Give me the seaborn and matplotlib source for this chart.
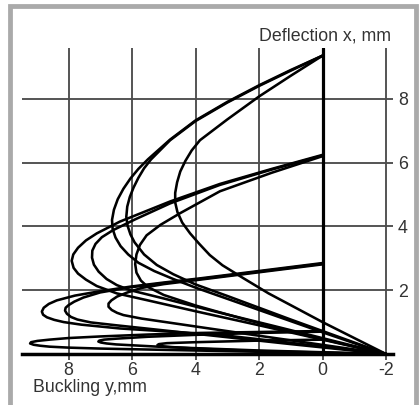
import matplotlib
matplotlib.use('Agg')
import matplotlib.pyplot as plt
import seaborn as sns
import pandas as pd
from matplotlib.patches import Rectangle

# ---------------- data ----------------
x_ticks = [8, 6, 4, 2, 0, -2]
x_tick_labels = ['8', '6', '4', '2', '0', '-2']
y_ticks = [2, 4, 6, 8]
y_tick_labels = ['2', '4', '6', '8']

a1_x = [0.0, 1.0, 2.0, 3.0, 4.0, 4.8, 5.5, 5.8, 6.05, 6.27, 6.45, 6.57, 6.63, 6.61, 6.52, 6.36, 6.12, 5.8, 5.3, 4.7, 4.0, 3.0, 2.0, 1.0, 0.0, -1.0, -2.0]
a1_y = [9.35, 8.9, 8.42, 7.9, 7.32, 6.72, 6.1, 5.8, 5.5, 5.18, 4.85, 4.52, 4.2, 3.92, 3.65, 3.38, 3.12, 2.86, 2.6, 2.35, 2.08, 1.73, 1.38, 1.03, 0.68, 0.34, 0.0]

a2_x = [0.0, 1.0, 2.0, 3.0, 4.0, 4.8, 5.4, 5.62, 5.8, 5.95, 6.07, 6.15, 6.18, 6.14, 6.05, 5.92, 5.62, 5.22, 4.7, 4.0, 3.0, 2.0, 1.0, 0.0, -1.0, -2.0]
a2_y = [9.35, 8.88, 8.4, 7.88, 7.3, 6.7, 6.1, 5.82, 5.52, 5.22, 4.92, 4.62, 4.3, 4.02, 3.75, 3.5, 3.12, 2.79, 2.5, 2.18, 1.82, 1.45, 1.08, 0.72, 0.36, 0.0]

a3_x = [0.0, 1.0, 2.0, 3.0, 3.86, 4.12, 4.32, 4.48, 4.58, 4.64, 4.64, 4.57, 4.42, 4.17, 3.88, 3.55, 3.15, 2.5, 1.7, 1.0, 0.0, -1.0, -2.0]
a3_y = [9.35, 8.72, 8.07, 7.35, 6.7, 6.38, 6.05, 5.72, 5.38, 5.05, 4.75, 4.45, 4.12, 3.78, 3.45, 3.1, 2.78, 2.38, 1.9, 1.53, 1.0, 0.5, 0.0]

b1_x = [0.0, 1.6, 3.23, 4.8, 6.38, 7.11, 7.45, 7.7, 7.85, 7.9, 7.84, 7.7, 7.45, 7.11, 6.48, 5.5, 4.0, 2.0, 0.0, -2.0]
b1_y = [6.24, 5.8, 5.33, 4.78, 4.15, 3.78, 3.56, 3.33, 3.12, 2.92, 2.7, 2.52, 2.33, 2.13, 1.9, 1.68, 1.34, 0.9, 0.45, 0.0]

b2_x = [0.0, 1.6, 3.23, 4.8, 5.9, 6.6, 6.95, 7.15, 7.25, 7.26, 7.2, 7.05, 6.8, 6.48, 6.06, 5.0, 3.5, 1.5, -2.0]
b2_y = [6.22, 5.78, 5.3, 4.72, 4.22, 3.88, 3.66, 3.45, 3.24, 3.02, 2.8, 2.58, 2.35, 2.16, 2.0, 1.74, 1.36, 0.87, 0.0]

b3_x = [0.0, 1.6, 3.23, 4.49, 5.1, 5.54, 5.75, 5.86, 5.9, 5.86, 5.72, 5.5, 5.0, 4.0, 2.5, 0.5, -2.0]
b3_y = [6.2, 5.68, 5.1, 4.41, 4.05, 3.72, 3.42, 3.12, 2.82, 2.55, 2.3, 2.1, 1.85, 1.52, 1.1, 0.58, 0.0]

c1_x = [0.0, 1.93, 3.86, 5.0, 6.06, 7.11, 7.8, 8.37, 8.62, 8.78, 8.84, 8.8, 8.68, 8.45, 8.15, 7.6, 6.38, 4.8, 3.23, 1.0, -2.0]
c1_y = [2.85, 2.61, 2.37, 2.24, 2.11, 1.95, 1.83, 1.68, 1.57, 1.45, 1.33, 1.23, 1.15, 1.07, 1.0, 0.92, 0.8, 0.7, 0.6, 0.35, 0.0]

c2_x = [0.0, 1.93, 3.86, 5.0, 6.06, 7.0, 7.53, 7.82, 8.0, 8.09, 8.11, 8.05, 7.92, 7.72, 7.3, 6.5, 5.0, 3.5, 1.0, -2.0]
c2_y = [2.83, 2.59, 2.35, 2.22, 2.09, 1.93, 1.77, 1.64, 1.53, 1.45, 1.36, 1.26, 1.16, 1.08, 0.99, 0.9, 0.74, 0.58, 0.31, 0.0]

c3_x = [0.0, 1.93, 3.86, 5.0, 5.7, 6.17, 6.47, 6.65, 6.74, 6.74, 6.64, 6.47, 6.27, 5.7, 5.01, 3.5, 1.5, -2.0]
c3_y = [2.81, 2.57, 2.33, 2.19, 2.07, 1.92, 1.8, 1.68, 1.58, 1.48, 1.38, 1.29, 1.22, 1.11, 1.01, 0.79, 0.5, 0.0]

d1_x = [0.0, 2.0, 3.86, 5.5, 7.0, 8.0, 8.6, 8.98, 9.18, 9.21, 9.1, 8.9, 8.6, 8.0, 7.0, 5.0, 2.0, -2.0]
d1_y = [0.72, 0.69, 0.66, 0.61, 0.55, 0.5, 0.45, 0.41, 0.37, 0.33, 0.29, 0.26, 0.23, 0.2, 0.17, 0.13, 0.07, 0.0]

d2_x = [0.0, 2.0, 4.0, 5.5, 6.5, 6.88, 7.03, 7.06, 6.98, 6.8, 6.5, 5.0, 2.0, -2.0]
d2_y = [0.7, 0.66, 0.6, 0.54, 0.48, 0.45, 0.42, 0.39, 0.36, 0.33, 0.3, 0.22, 0.11, 0.0]

d3_x = [0.0, 2.0, 4.0, 4.9, 5.15, 5.2, 5.1, 4.8, 4.0, 2.0, -2.0]
d3_y = [0.45, 0.42, 0.37, 0.34, 0.31, 0.28, 0.25, 0.22, 0.17, 0.09, 0.0]

curves = {
    'A1': (a1_x, a1_y), 'A2': (a2_x, a2_y), 'A3': (a3_x, a3_y),
    'B1': (b1_x, b1_y), 'B2': (b2_x, b2_y), 'B3': (b3_x, b3_y),
    'C1': (c1_x, c1_y), 'C2': (c2_x, c2_y), 'C3': (c3_x, c3_y),
    'D1': (d1_x, d1_y), 'D2': (d2_x, d2_y), 'D3': (d3_x, d3_y),
}

rows = []
for name, (xs, ys) in curves.items():
    for i, (xv, yv) in enumerate(zip(xs, ys)):
        rows.append({'curve': name, 'order': i, 'x': xv, 'y': yv})
df = pd.DataFrame(rows)

# ---------------- style ----------------
sns.set_style('white')
plt.rcParams['font.family'] = ['Liberation Sans', 'DejaVu Sans']
plt.rcParams['axes.unicode_minus'] = False
plt.rcParams['lines.solid_joinstyle'] = 'round'
plt.rcParams['lines.solid_capstyle'] = 'round'

fig = plt.figure(figsize=(4.19, 4.05), dpi=100)
ax = fig.add_axes([22 / 419, 51 / 405, 371 / 419, 306 / 405])

sns.lineplot(data=df, x='x', y='y', units='curve', estimator=None, sort=False,
             color='black', linewidth=1.85, ax=ax, legend=False, zorder=4)

ax.set_xlim(9.465, -2.22)
ax.set_ylim(0, 9.59)
ax.set_xticks(x_ticks)
ax.set_xticklabels(x_tick_labels)
ax.set_yticks(y_ticks)
ax.set_yticklabels(y_tick_labels)
ax.yaxis.tick_right()
ax.grid(True, color='#4d4d4d', linewidth=1.35)
ax.set_axisbelow(True)
ax.axvline(0, color='black', lw=2.3, zorder=3)

for s in ['top', 'left', 'right']:
    ax.spines[s].set_visible(False)
ax.spines['bottom'].set_linewidth(2.5)
ax.spines['bottom'].set_color('black')
ax.spines['bottom'].set_zorder(5)

ax.tick_params(axis='x', direction='out', length=4.3, width=1.35, color='#4d4d4d',
               pad=1.5, labelsize=12.8, labelcolor='#333333', bottom=True)
ax.tick_params(axis='y', length=0, pad=3.5, labelsize=12.8, labelcolor='#333333',
               right=True, left=False, labelright=True, labelleft=False)
ax.set_xlabel('')
ax.set_ylabel('')

fig.text(391 / 419, (405 - 40.7) / 405, 'Deflection x, mm', ha='right', va='baseline',
         fontsize=12.8, color='#333333')
fig.text(33 / 419, (405 - 392) / 405, 'Buckling y,mm', ha='left', va='baseline',
         fontsize=12.8, color='#333333')

fig.patches.append(Rectangle((9.7 / 419, -0.1), (416 - 9.7) / 419, (405 - 6.3) / 405 + 0.1,
                             transform=fig.transFigure, fill=False,
                             edgecolor='#aaaaaa', linewidth=3.45))

fig.savefig('out.png', dpi=100)
